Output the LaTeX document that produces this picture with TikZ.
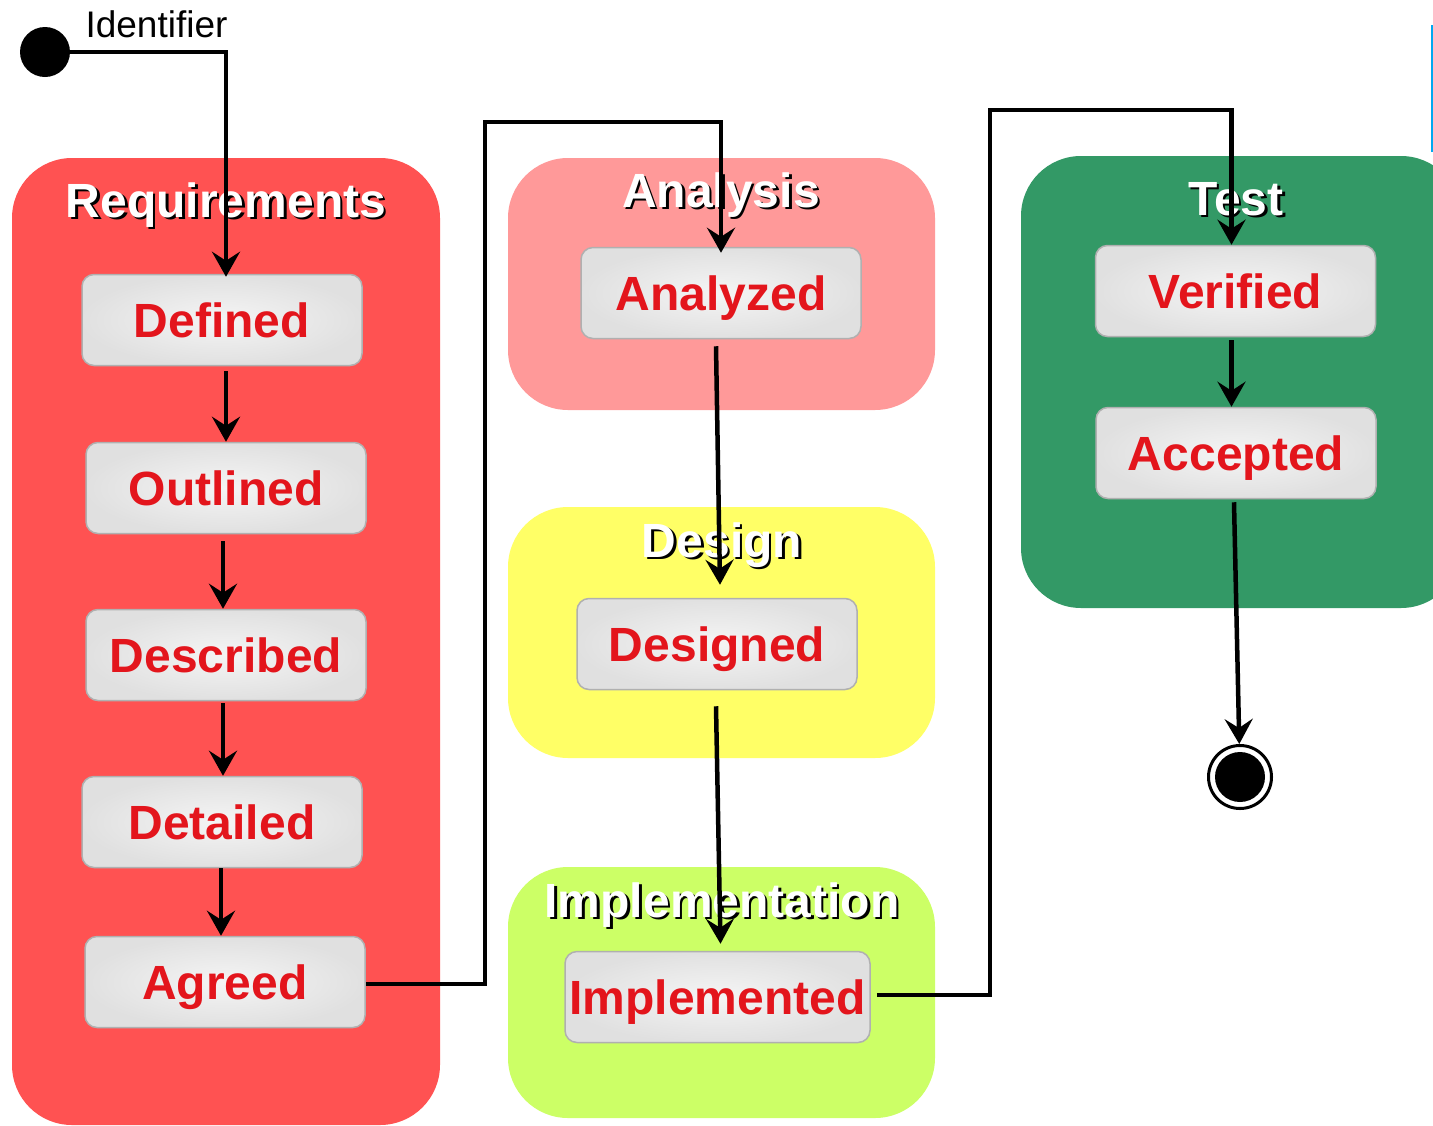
\documentclass[tikz,border=0pt]{standalone}
\usepackage{fontspec}
\setmainfont{Liberation Sans}
\usetikzlibrary{positioning, shapes, arrows.meta}

\definecolor{reqred}{RGB}{255,82,82}
\definecolor{anapink}{RGB}{255,153,153}
\definecolor{desyellow}{RGB}{255,255,102}
\definecolor{implime}{RGB}{204,255,102}
\definecolor{testgreen}{RGB}{51,153,102}
\definecolor{statered}{RGB}{227,21,28}
\definecolor{boxgray}{RGB}{176,176,176}
\definecolor{edgecyan}{RGB}{0,168,240}

\newcommand{\shadowed}[1]{\rlap{\hspace{2.5pt}\raisebox{-2.5pt}{\color{black}#1}}#1}

\begin{document}
\begin{tikzpicture}[x=1pt, y=-1pt,
    group/.style={rectangle, rounded corners=60pt, inner sep=0pt},
    grouptitle/.style={anchor=base, text=white, font=\fontsize{48}{50}\selectfont\bfseries},
    state/.style={rectangle, rounded corners=12pt, draw=boxgray, line width=1.5pt,
        inner color=white!96!black, outer color=white!88!black,
        minimum width=280pt, minimum height=91pt, inner sep=0pt,
        text=statered, font=\fontsize{48}{50}\selectfont\bfseries,
        text height=34pt, text depth=0pt},
    trans/.style={-{Stealth[length=25pt, width=28pt, inset=9pt]}, line width=4.5pt}]
                \useasboundingbox (0,0) rectangle (1433,1125);
                % groups
                \node[group, fill=reqred, minimum width=428pt, minimum height=967pt] (reqgroup) at (226,641.5) {};
                \node[group, fill=anapink, minimum width=427pt, minimum height=252pt] (anagroup) at (721.5,284) {};
                \node[group, fill=desyellow, minimum width=427pt, minimum height=251pt] (desgroup) at (721.5,632.5) {};
                \node[group, fill=implime, minimum width=427pt, minimum height=251pt] (impgroup) at (721.5,992.5) {};
                \node[group, fill=testgreen, minimum width=440pt, minimum height=452pt] (testgroup) at (1241,382) {};
                \node[grouptitle] (reqtitle) at (226,217) {\shadowed{Requirements}};
                \node[grouptitle] (anatitle) at (721,207) {\shadowed{Analysis}};
                \node[grouptitle] (destitle) at (722,557) {\shadowed{Design}};
                \node[grouptitle] (imptitle) at (722,917) {\shadowed{Implementation}};
                \node[grouptitle] (testtitle) at (1236,215) {\shadowed{Test}};
                % states
                \node[state] (defined) at (222,320) {Defined};
                \node[state] (outlined) at (226,488) {Outlined};
                \node[state] (described) at (226,655) {Described};
                \node[state] (detailed) at (222,822) {Detailed};
                \node[state] (agreed) at (225,982) {Agreed};
                \node[state] (analyzed) at (721,293) {Analyzed};
                \node[state] (designed) at (717,644) {Designed};
                \node[state, minimum width=305pt] (implemented) at (717.5,997) {Implemented};
                \node[state] (verified) at (1235.5,291) {Verified};
                \node[state] (accepted) at (1236,453) {Accepted};
                \node[circle, fill=black, minimum size=50pt, inner sep=0pt] (start) at (45,52) {};
                \node[circle, draw=black, line width=3pt, fill=white, minimum size=63pt, inner sep=0pt,
                    path picture={\fill[black] (path picture bounding box.center) circle (25pt);}] (stop) at (1240,777) {};
                \node[anchor=base west, font=\fontsize{37}{40}\selectfont] (identifier) at (82,37) {Identifier};
                \coordinate (bend1) at (485,122);
                \coordinate (bend2) at (990,110);
                % transitions
                \draw[trans] (start) -| ([xshift=4pt,yshift=-3pt]defined.north);
                \draw[trans] ([xshift=4pt,yshift=-5pt]defined.south) -- ([xshift=4pt]defined.south |- outlined.north);
                \draw[trans] ([xshift=-3pt,yshift=-7pt]outlined.south) -- ([xshift=-3pt]outlined.south |- described.north);
                \draw[trans] ([xshift=-3pt,yshift=-2pt]described.south) -- ([xshift=-3pt]described.south |- detailed.north);
                \draw[trans] ([xshift=-1pt]detailed.south) -- ([xshift=-1pt]detailed.south |- agreed.north);
                \draw[trans] ([yshift=-2pt]agreed.east) -| (bend1) -| ([yshift=-6pt]analyzed.north);
                \draw[trans] ([xshift=-5pt,yshift=-7pt]analyzed.south) -- ([xshift=3pt,yshift=13pt]designed.north);
                \draw[trans] ([xshift=-1pt,yshift=-16pt]designed.south) -- ([xshift=3pt,yshift=7pt]implemented.north);
                \draw[trans] ([xshift=6pt,yshift=2pt]implemented.east) -| (bend2) -| ([xshift=-4pt]verified.north);
                \draw[trans] ([xshift=-4pt,yshift=-3pt]verified.south) -- ([xshift=-4pt]verified.south |- accepted.north);
                \draw[trans] ([xshift=-2pt,yshift=-3pt]accepted.south) -- (stop);
                \draw[edgecyan, line width=2pt] (1432,25) -- (1432,152);
            \end{tikzpicture}
\end{document}
